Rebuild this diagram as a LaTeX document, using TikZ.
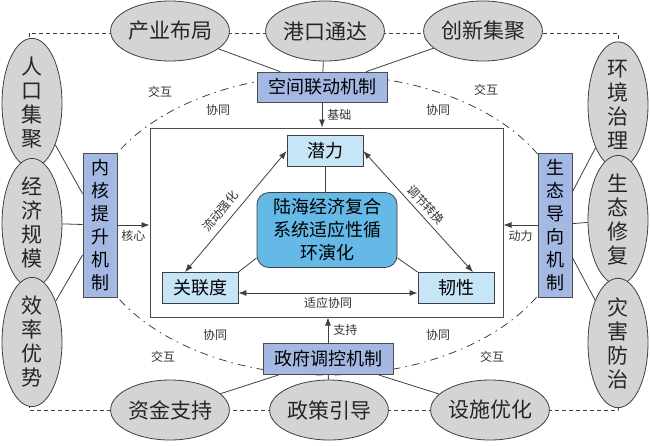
\documentclass[tikz,border=0pt]{standalone}
\usepackage{fontspec}
\setmainfont{Noto Sans CJK SC}
\usetikzlibrary{shapes.geometric, arrows.meta}
\definecolor{jizhilan}{RGB}{163,184,226}
\definecolor{xinglan}{RGB}{198,229,247}
\definecolor{hexinlan}{RGB}{100,185,231}
\definecolor{yuanhui}{RGB}{212,212,212}

\begin{document}
\begin{tikzpicture}[x=1pt, y=-1pt,
    yuan/.style={ellipse, draw=black!75, fill=yuanhui, line width=0.8pt, inner sep=0pt, text=black!85},
    heng/.style={yuan, minimum width=108pt, minimum height=60pt, font=\fontsize{21}{24}\selectfont},
    shu/.style={yuan, minimum width=60pt, minimum height=112pt, align=center, font=\fontsize{21}{24}\selectfont},
    jizhi/.style={draw=black!70, fill=jizhilan, line width=0.8pt, inner sep=0pt, align=center, font=\fontsize{18}{23}\selectfont},
    xing/.style={draw=black!75, fill=xinglan, line width=0.8pt, inner sep=0pt, minimum width=76pt, minimum height=31pt, font=\fontsize{18}{20}\selectfont},
    biao/.style={font=\fontsize{12}{14}\selectfont, text=black!80, inner sep=1pt},
    xian/.style={draw=black!75, line width=0.8pt},
    dan/.style={xian, -{Latex[length=8pt, width=6pt]}},
    shuang/.style={xian, {Latex[length=8pt, width=6pt]}-{Latex[length=8pt, width=6pt]}}]
\useasboundingbox (0,0) rectangle (650,445);
\draw[black!75, line width=0.8pt, dash pattern=on 4pt off 3pt] (29,33) rectangle (618,410);
\draw[black!75, line width=0.8pt, dash pattern=on 8pt off 5pt on 1.5pt off 5pt] (327,225) ellipse [x radius=239pt, y radius=150pt];

\node[heng] (cybj) at (170,31) {产业布局};
\node[heng] (gkdt) at (325,31) {港口通达};
\node[heng] (cxjj) at (483,31) {创新集聚};
\node[heng] (zjzc) at (170,410) {资金支持};
\node[heng] (zcyd) at (329,410) {政策引导};
\node[heng] (ssyh) at (490,410) {设施优化};
\node[shu] (rkjj) at (32,103) {人\\口\\集\\聚};
\node[shu] (jjgm) at (32,223) {经\\济\\规\\模};
\node[shu] (xlys) at (32,342) {效\\率\\优\\势};
\node[shu] (hjzl) at (618,105) {环\\境\\治\\理};
\node[shu] (stxf) at (618,220) {生\\态\\修\\复};
\node[shu] (zhfz) at (618,343) {灾\\害\\防\\治};

\node[draw=black!70, line width=1pt, fill=white, minimum width=353pt, minimum height=189pt] (kuang) at (326.5,222.5) {};

\node[jizhi, minimum width=130pt, minimum height=30pt] (kjld) at (322,87) {空间联动机制};
\node[jizhi, minimum width=130pt, minimum height=31pt] (zftk) at (328,359) {政府调控机制};
\node[jizhi, minimum width=34pt, minimum height=144pt] (nhts) at (100,225) {内\\核\\提\\升\\机\\制};
\node[jizhi, minimum width=34pt, minimum height=144pt] (stdx) at (555,225) {生\\态\\导\\向\\机\\制};

\node[xing] (ql) at (325,151) {潜力};
\node[xing] (gld) at (200,288) {关联度};
\node[xing] (rx) at (456,288) {韧性};
\node[draw=black!75, fill=hexinlan, rounded corners=12pt, line width=0.8pt, minimum width=140pt, minimum height=75pt, align=center, font=\fontsize{18}{23}\selectfont] (hx) at (327,230) {陆海经济复合\\系统适应性循\\环演化};

\path[xian] (cybj) edge (kjld) (gkdt) edge (kjld) (cxjj) edge (kjld)
    (zjzc) edge (zftk) (zcyd) edge (zftk) (ssyh) edge (zftk)
    (rkjj) edge (nhts) (jjgm) edge (nhts) (xlys) edge (nhts)
    (hjzl) edge (stdx) (stxf) edge (stdx) (zhfz) edge (stdx);
\draw[xian] (ql.south) -- (ql.south |- hx.north);
\draw[xian] ([yshift=10pt]hx.south west) -- (gld.north east);
\draw[xian] ([yshift=10pt]hx.south east) -- (rx.north west);

\draw[shuang] ([xshift=-15pt]gld.north) -- node[biao, sloped, above=5pt, pos=0.44] {流动强化} (ql.west);
\draw[shuang] (ql.east) -- node[biao, sloped, above=3pt] {调节转换} ([xshift=17pt]rx.north);
\draw[shuang] ([yshift=-5pt]gld.east) -- node[biao, below=3pt] {适应协同} ([yshift=-5pt]rx.west);

\draw[dan] (kjld.south) -- node[biao, right=4pt] {基础} (kjld.south |- kuang.north);
\draw[dan] (zftk.north) -- node[biao, right=4pt] {支持} (zftk.north |- kuang.south);
\draw[dan] (nhts.east) -- node[biao, below=4pt] {核心} (nhts.east -| kuang.west);
\draw[dan] (stdx.west) -- node[biao, below=4pt] {动力} (stdx.west -| kuang.east);

\node[biao] (jh1) at (160,92) {交互};
\node[biao] (xt1) at (218,110) {协同};
\node[biao] (jh2) at (486,90) {交互};
\node[biao] (xt2) at (438,110) {协同};
\node[biao] (xt3) at (215,335) {协同};
\node[biao] (jh3) at (163,357) {交互};
\node[biao] (xt4) at (438,335) {协同};
\node[biao] (jh4) at (492,357) {交互};
\end{tikzpicture}
\end{document}
